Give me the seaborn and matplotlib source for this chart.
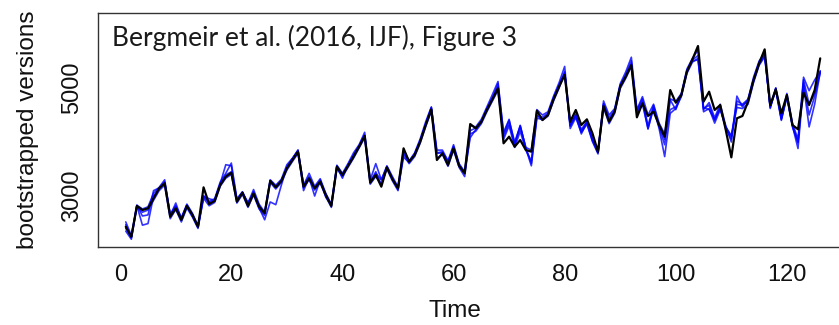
import numpy as np
import pandas as pd
import matplotlib
matplotlib.use("Agg")
import matplotlib.pyplot as plt
import seaborn as sns

time = list(range(1, 127))

original = [2432, 2246, 2815, 2741, 2772, 2957, 3142, 3235, 2617, 2772,
            2556, 2815, 2648, 2432, 3161, 2852, 2907, 3204, 3358, 3432,
            2895, 3062, 2815, 3049, 2802, 2679, 3278, 3161, 3278, 3512,
            3667, 3821, 3173, 3327, 3142, 3265, 3019, 2815, 3543, 3389,
            3556, 3728, 3913, 4111, 3247, 3389, 3173, 3531, 3309, 3142,
            3883, 3636, 3759, 4006, 4315, 4605, 3667, 3790, 3574, 3883,
            3556, 3420, 4333, 4253, 4376, 4593, 4790, 4994, 3976, 4099,
            3913, 4037, 3852, 3821, 4580, 4408, 4500, 4790, 5025, 5241,
            4376, 4593, 4315, 4420, 4161, 3821, 4667, 4376, 4562, 5025,
            5210, 5426, 4457, 4716, 4482, 4562, 4315, 4099, 4963, 4728,
            4871, 5302, 5531, 5778, 4747, 4932, 4593, 4685, 4222, 3716,
            4439, 4482, 4747, 5148, 5457, 5716, 4685, 4975, 4531, 4871,
            4315, 4235, 4914, 4685, 4963, 5549]

boot1 = [2520, 2270, 2830, 2760, 2800, 3050, 3160, 3300, 2660, 2820,
         2600, 2850, 2680, 2450, 3000, 2900, 2950, 3260, 3420, 3610,
         2950, 3080, 2870, 3120, 2850, 2700, 3300, 3200, 3310, 3580,
         3700, 3850, 3200, 3420, 3180, 3320, 3050, 2850, 3570, 3420,
         3600, 3800, 3950, 4180, 3300, 3600, 3300, 3560, 3360, 3170,
         3850, 3650, 3800, 4060, 4380, 4650, 3850, 3850, 3650, 3950,
         3600, 3450, 4300, 4280, 4420, 4650, 4880, 5120, 4150, 4400,
         4000, 4300, 3900, 3850, 4600, 4500, 4560, 4850, 5100, 5400,
         4300, 4500, 4230, 4380, 4050, 3800, 4760, 4500, 4620, 5080,
         5300, 5570, 4600, 4840, 4500, 4700, 4350, 4150, 4800, 4750,
         4900, 5350, 5550, 5700, 4600, 4730, 4450, 4700, 4300, 4000,
         4850, 4650, 4790, 5200, 5500, 5650, 4620, 5000, 4450, 4900,
         4350, 4050, 5200, 4950, 5150, 5300]

boot2 = [2350, 2200, 2800, 2700, 2740, 2920, 3100, 3200, 2580, 2750,
         2520, 2780, 2610, 2400, 2960, 2820, 2880, 3180, 3330, 3400,
         2870, 3030, 2790, 3020, 2760, 2640, 3250, 3130, 3250, 3480,
         3640, 3790, 3150, 3300, 3110, 3240, 2990, 2790, 3510, 3360,
         3530, 3700, 3890, 4080, 3220, 3360, 3230, 3500, 3280, 3100,
         3780, 3600, 3730, 3980, 4290, 4570, 3700, 3770, 3550, 3850,
         3530, 3360, 4150, 4200, 4340, 4560, 4760, 4960, 4050, 4300,
         3900, 4200, 3850, 3650, 4500, 4400, 4480, 4760, 5000, 5300,
         4250, 4450, 4180, 4330, 4010, 3780, 4640, 4340, 4530, 4990,
         5180, 5400, 4530, 4700, 4250, 4620, 4250, 3730, 4530, 4620,
         4840, 5270, 5480, 5550, 4560, 4620, 4350, 4600, 4280, 4120,
         4640, 4620, 4700, 5100, 5420, 5580, 4650, 4950, 4400, 4850,
         4300, 3880, 5050, 4280, 4700, 5300]

boot3 = [2470, 2230, 2820, 2460, 2490, 3000, 3130, 3250, 2640, 2870,
         2580, 2830, 2660, 2420, 3000, 2950, 2920, 3220, 3390, 3450,
         2900, 3050, 2880, 3050, 2780, 2560, 2890, 2840, 3200, 3540,
         3690, 3830, 3100, 3340, 3000, 3300, 2980, 2830, 3540, 3330,
         3580, 3760, 3930, 4130, 3270, 3420, 3300, 3540, 3330, 3120,
         3720, 3620, 3780, 4020, 4330, 4620, 3790, 3800, 3600, 3920,
         3580, 3430, 4080, 4230, 4360, 4620, 4820, 5020, 4100, 4350,
         3950, 4310, 3880, 3560, 4440, 4420, 4520, 4800, 5040, 5260,
         4300, 4480, 4150, 4360, 4020, 3810, 4700, 4400, 4570, 5040,
         5230, 5450, 4560, 4760, 4240, 4650, 4280, 3950, 4780, 4600,
         4880, 5300, 5500, 5520, 4640, 4600, 4420, 4620, 4250, 4050,
         4700, 4680, 4760, 5130, 5440, 5600, 4640, 4980, 4420, 4830,
         4280, 3990, 5100, 4500, 4850, 5280]

boot4 = [2400, 2230, 2830, 2630, 2650, 3100, 3150, 3260, 2650, 2800,
         2580, 2830, 2630, 2430, 2980, 2880, 2930, 3230, 3580, 3560,
         2930, 3070, 2840, 3080, 2820, 2690, 3290, 3180, 3280, 3530,
         3690, 3850, 3190, 3360, 3150, 3290, 3030, 2830, 3560, 3400,
         3560, 3750, 3920, 4120, 3260, 3450, 3200, 3540, 3320, 3150,
         3800, 3640, 3770, 4030, 4340, 4640, 3800, 3820, 3650, 3900,
         3570, 3440, 4210, 4260, 4380, 4610, 4810, 5080, 4180, 4420,
         3960, 4280, 3900, 3600, 4480, 4460, 4530, 4820, 5060, 5290,
         4320, 4520, 4200, 4370, 4060, 3830, 4710, 4450, 4590, 5050,
         5250, 5500, 4580, 4800, 4300, 4680, 4300, 4050, 4600, 4650,
         4860, 5320, 5520, 5600, 4620, 4680, 4400, 4650, 4270, 4100,
         4760, 4700, 4790, 5160, 5470, 5620, 4670, 5000, 4430, 4860,
         4310, 4000, 5150, 4700, 4900, 5320]

boot_series = [boot1, boot2, boot3, boot4]
x_ticks = [0, 20, 40, 60, 80, 100, 120]
y_ticks = [3000, 4000, 5000, 6000]
y_tick_labels = ["3000", "", "5000", ""]
title_text = "Bergmeir et al. (2016, IJF), Figure 3"

sns.set_style("white")
plt.rcParams["font.family"] = ["Liberation Sans", "DejaVu Sans"]

fig = plt.figure(figsize=(8.39, 3.25), dpi=100)
ax = fig.add_axes([98 / 839, 78 / 325, 750 / 839, 234 / 325])

for b in boot_series:
    sns.lineplot(x=time, y=b, ax=ax, color="#0000FF", alpha=0.8, linewidth=1.2)
sns.lineplot(x=time, y=original, ax=ax, color="black", linewidth=1.6)

ax.set_xlim(-4, 131)
ax.set_ylim(2056, 6389)
ax.set_xticks(x_ticks)
ax.set_xticklabels([str(v) for v in x_ticks], family=["Liberation Sans"])
ax.set_yticks(y_ticks)
ax.set_yticklabels(y_tick_labels, rotation=90, va="center", family=["Liberation Sans"])
ax.tick_params(axis="both", which="major", direction="out", length=7,
               width=1, color="#333333", labelsize=17, pad=4,
               labelcolor="#111111")
ax.tick_params(axis="x", pad=5)
for s in ax.spines.values():
    s.set_color("#333333")
    s.set_linewidth(1)

ax.set_xlabel("Time", fontsize=17.5, family=["Liberation Sans"], color="#111111")
ax.set_ylabel("bootstrapped versions", fontsize=17.5, family=["Liberation Sans"],
              color="#111111")
ax.xaxis.set_label_coords((455 - 98) / 750, (247 - 300) / 234)
ax.yaxis.set_label_coords((39 - 98) / 750, 0.5)

ax.text((112 - 98) / 750, (247 - 25) / 234, title_text, transform=ax.transAxes,
        ha="left", va="top", fontsize=19, fontweight="normal",
        family=["Lato", "DejaVu Sans"], color="#1a1a1a")

fig.savefig("out.png", dpi=100)
